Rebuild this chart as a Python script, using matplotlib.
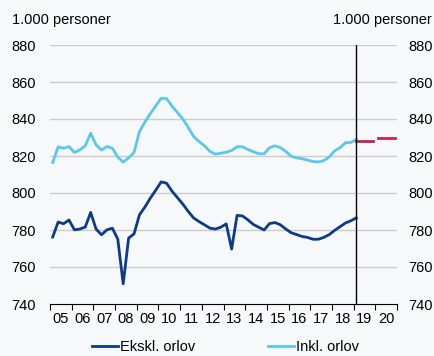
import matplotlib.pyplot as plt
import numpy as np

# Quarterly series, 2005Q1 - 2019Q1 (1 000 persons)
start_year = 2005
ekskl_orlov = [776.2, 784.3, 783.4, 785.4, 780.1, 780.5, 781.6, 789.5, 780.5, 777.4,
               780.1, 781.0, 775.1, 750.9, 775.6, 777.9, 788.2, 792.4, 797.2, 801.5,
               806.0, 805.3, 801.0, 797.5, 794.0, 790.0, 786.5, 784.5, 782.8, 781.0,
               780.5, 781.5, 783.3, 769.7, 787.9, 787.6, 785.5, 783.0, 781.5, 780.0,
               783.5, 784.0, 782.8, 780.5, 778.5, 777.5, 776.5, 776.0, 775.0, 775.0,
               776.0, 777.5, 779.8, 781.8, 783.8, 785.0, 786.6]
inkl_orlov = [816.5, 824.9, 824.2, 825.1, 821.9, 823.3, 825.5, 832.3, 826.0, 823.2,
              825.1, 824.2, 819.4, 816.7, 819.0, 821.9, 833.2, 838.3, 842.9, 847.0,
              851.2, 851.0, 847.0, 843.5, 840.0, 835.5, 830.5, 827.8, 825.5, 822.5,
              821.0, 821.5, 822.0, 823.0, 825.0, 825.0, 823.5, 822.3, 821.2, 821.2,
              824.5, 825.5, 824.5, 822.5, 819.8, 819.0, 818.5, 817.8, 817.0, 816.8,
              817.5, 819.5, 822.8, 824.5, 827.2, 827.3, 829.0]

# Annual projections
forecast_years = [2019, 2020]
forecast_values = [828.3, 829.6]

year_labels = ['05', '06', '07', '08', '09', '10', '11', '12', '13', '14',
               '15', '16', '17', '18', '19', '20']
y_ticks = [740, 760, 780, 800, 820, 840, 860, 880]

bg = '#f6f8f9'
dark_blue = '#0b3b8a'
light_blue = '#5ac8ec'
red = '#c5254b'

plt.rcParams['font.family'] = ['Liberation Sans', 'DejaVu Sans']
plt.rcParams['font.size'] = 10

fig = plt.figure(figsize=(4.35, 3.56), dpi=100, facecolor=bg)
ax = fig.add_axes([50 / 435, 1 - 304 / 356, 347 / 435, 259 / 356], facecolor=bg)

t = start_year + (np.arange(len(ekskl_orlov)) + 0.5) / 4
ax.plot(t, ekskl_orlov, color=dark_blue, lw=2, label='Ekskl. orlov', zorder=3)
ax.plot(t, inkl_orlov, color=light_blue, lw=2, label='Inkl. orlov', zorder=3)

for yr, val in zip(forecast_years, forecast_values):
    ax.plot([yr + 0.13, yr + 0.9], [val, val], color=red, lw=2, zorder=3)

ax.axvline(t[-1], color='black', lw=1, zorder=4)

ax.set_xlim(2005, 2021)
ax.set_ylim(740, 880)
ax.set_yticks(y_ticks)
for y in y_ticks[1:]:
    ax.axhline(y, color='#cccccc', lw=1, zorder=1)

ax.set_xticks(np.arange(2005, 2022))
ax.set_xticklabels([])
ax.set_xticks(np.arange(2005, 2021) + 0.5, minor=True)
ax.set_xticklabels(year_labels, minor=True)
ax.tick_params(axis='x', which='major', length=4, direction='out', color='black')
ax.tick_params(axis='x', which='minor', length=0, pad=6, labelsize=10.5)
ax.tick_params(axis='y', length=0, labelsize=10.5, pad=10)

# same scale repeated on the right
ax_r = ax.secondary_yaxis('right')
ax_r.set_yticks(y_ticks)
ax_r.tick_params(axis='y', length=0, labelsize=10.5, pad=8)
ax_r.spines['right'].set_visible(False)

for side in ['top', 'left', 'right']:
    ax.spines[side].set_visible(False)
ax.spines['bottom'].set_color('black')

fig.text(12 / 435, 1 - 20 / 356, '1.000 personer', ha='left', va='center', fontsize=10.5)
fig.text(432 / 435, 1 - 20 / 356, '1.000 personer', ha='right', va='center', fontsize=10.5)

fig.legend(loc='center', bbox_to_anchor=(0.518, 1 - 347 / 356), ncol=2, frameon=False,
           handlelength=1.8, handletextpad=0.1, columnspacing=5.0, fontsize=10.5,
           borderpad=0.1)

fig.savefig('out.png', dpi=100, facecolor=bg)
